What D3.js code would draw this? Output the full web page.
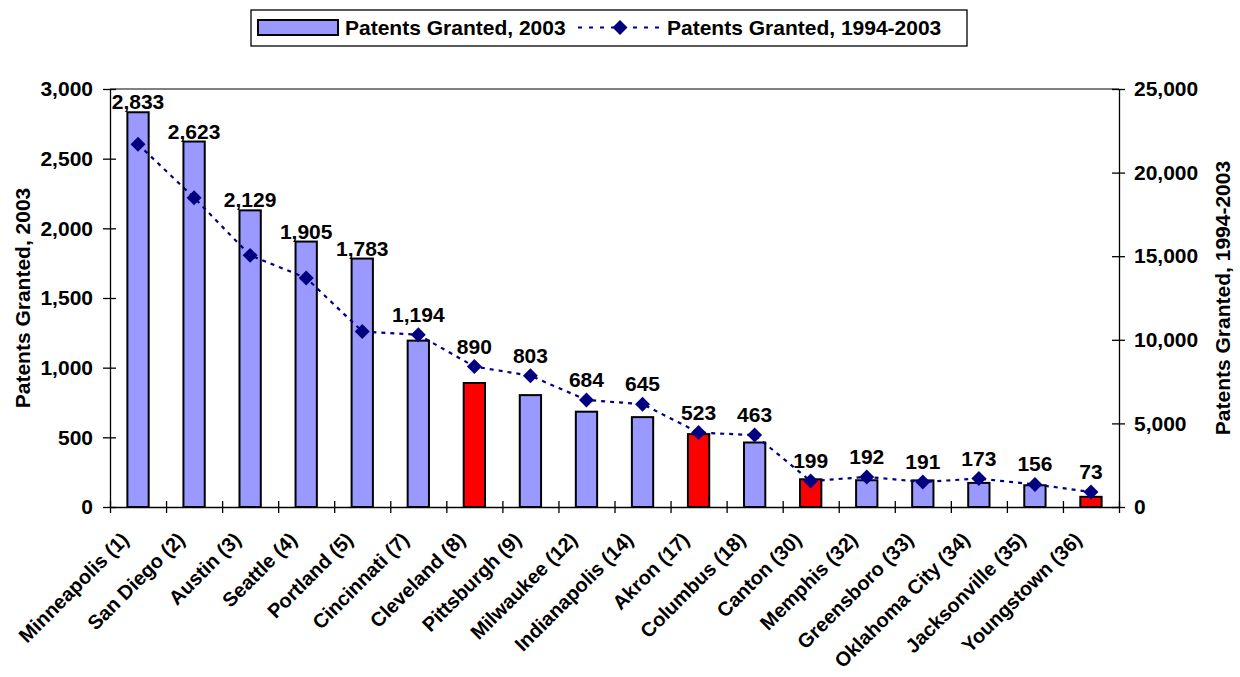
<!DOCTYPE html>
<html>
<head>
<meta charset="utf-8">
<script src="https://cdn.jsdelivr.net/npm/d3@7"></script>
<style>
    body { margin: 0; background: #fff; }
    svg text { font-family: "Liberation Sans", Arial, sans-serif; font-weight: bold; fill: #000; }
</style>
</head>
<body>
<div id="main"></div>
<script>
///////////
// DATA  //
///////////

const cities = [
      "Minneapolis (1)", "San Diego (2)", "Austin (3)", "Seattle (4)", "Portland (5)"
    , "Cincinnati (7)", "Cleveland (8)", "Pittsburgh (9)", "Milwaukee (12)", "Indianapolis (14)"
    , "Akron (17)", "Columbus (18)", "Canton (30)", "Memphis (32)", "Greensboro (33)"
    , "Oklahoma City (34)", "Jacksonville (35)", "Youngstown (36)"
]
const patents_2003 = [2833, 2623, 2129, 1905, 1783, 1194, 890, 803, 684, 645, 523, 463, 199, 192, 191, 173, 156, 73]
const patents_1994_2003 = [21700, 18500, 15050, 13700, 10500, 10300, 8400, 7850, 6400, 6150, 4450, 4300, 1550, 1800, 1500, 1700, 1350, 900]
const red_cities = ["Cleveland (8)", "Akron (17)", "Canton (30)", "Youngstown (36)"]

const left_ticks  = [0, 500, 1000, 1500, 2000, 2500, 3000]
const right_ticks = [0, 5000, 10000, 15000, 20000, 25000]

const bar_label  = "Patents Granted, 2003"
const line_label = "Patents Granted, 1994-2003"


///////////
// SETUP //
///////////

const width = 1240
const height = 677
const plot = {left: 110, right: 1119, top: 89, bottom: 507}

const BAR_BLUE = "#9999ff"
const BAR_RED  = "#ff0000"
const NAVY     = "#000080"
const FONT     = 21

const rows = cities.map((c, i) => ({city: c, bar: patents_2003[i], line: patents_1994_2003[i]}))

const x = d3.scaleBand()
    .domain(cities)
    .range([plot.left, plot.right])
    .paddingInner(0.62)
    .paddingOuter(0.31)

const y = d3.scaleLinear().domain([0, 3000]).range([plot.bottom, plot.top])
const y2 = d3.scaleLinear().domain([0, 25000]).range([plot.bottom, plot.top])

const cx = d => x(d.city) + x.bandwidth() / 2

const svg = d3.select("#main").append("svg")
    .attr("width", width)
    .attr("height", height)


//////////
// DRAW //
//////////

// plot area top border
svg.append("line")
    .attr("x1", plot.left).attr("x2", plot.right)
    .attr("y1", plot.top).attr("y2", plot.top)
    .attr("stroke", "#808080")
    .attr("stroke-width", 2)

// bars
svg.append("g").selectAll("rect").data(rows)
    .enter().append("rect")
        .attr("x", d => x(d.city))
        .attr("y", d => y(d.bar))
        .attr("width", x.bandwidth())
        .attr("height", d => y(0) - y(d.bar))
        .attr("fill", d => red_cities.includes(d.city) ? BAR_RED : BAR_BLUE)
        .attr("stroke", "#000")
        .attr("stroke-width", 2)

// axes
draw_axes()

// line
const line = d3.line().x(cx).y(d => y2(d.line))
svg.append("path")
    .datum(rows)
    .attr("d", line)
    .attr("fill", "none")
    .attr("stroke", NAVY)
    .attr("stroke-width", 2.2)
    .attr("stroke-dasharray", "4,5")

const diamond = d3.symbol(d3.symbolSquare, 112)
svg.append("g").selectAll("path").data(rows)
    .enter().append("path")
        .attr("d", diamond)
        .attr("transform", d => `translate(${cx(d)},${y2(d.line)}) rotate(45)`)
        .attr("fill", NAVY)

// bar value labels
svg.append("g").selectAll("text").data(rows)
    .enter().append("text")
        .attr("x", cx)
        .attr("y", d => Math.min(y(d.bar) - 3, y2(d.line) - 13))
        .attr("text-anchor", "middle")
        .style("font-size", FONT + "px")
        .text(d => d3.format(",")(d.bar))

draw_legend()


///////////////
// FUNCTIONS //
///////////////

function draw_axes(){
    const fmt = d3.format(",")

    // left
    const gl = svg.append("g")
        .attr("transform", `translate(${plot.left},0)`)
        .call(d3.axisLeft(y).tickValues(left_ticks).tickFormat(fmt).tickSizeOuter(0).tickPadding(11))
    style_axis(gl)
    gl.selectAll(".tick line").attr("x1", 6).attr("x2", -7)

    // right
    const gr = svg.append("g")
        .attr("transform", `translate(${plot.right},0)`)
        .call(d3.axisRight(y2).tickValues(right_ticks).tickFormat(fmt).tickSizeOuter(0).tickPadding(9))
    style_axis(gr)
    gr.selectAll(".tick line").attr("x1", -7).attr("x2", 6)

    // bottom: category boundaries
    const bounds = d3.range(cities.length + 1)
    const xb = d3.scaleLinear().domain([0, cities.length]).range([plot.left, plot.right])
    const gb = svg.append("g")
        .attr("transform", `translate(0,${plot.bottom})`)
        .call(d3.axisBottom(xb).tickValues(bounds).tickFormat("").tickSizeOuter(0))
    style_axis(gb)
    gb.selectAll(".tick line").attr("y1", -6).attr("y2", 6)

    // category labels
    svg.append("g").selectAll("text").data(cities)
        .enter().append("text")
            .attr("transform", c => `translate(${x(c) + x.bandwidth() / 2 - 8},${plot.bottom + 34}) rotate(-45)`)
            .attr("text-anchor", "end")
            .style("font-size", "20px")
            .text(c => c)

    // titles
    svg.append("text")
        .attr("transform", `translate(30,${(plot.top + plot.bottom) / 2}) rotate(-90)`)
        .attr("text-anchor", "middle")
        .style("font-size", FONT + "px")
        .text(bar_label)

    svg.append("text")
        .attr("transform", `translate(1230,${(plot.top + plot.bottom) / 2}) rotate(-90)`)
        .attr("text-anchor", "middle")
        .style("font-size", FONT + "px")
        .text(line_label)
}

function style_axis(g){
    g.select(".domain").attr("stroke", "#000").attr("stroke-width", 1.3)
    g.selectAll(".tick line").attr("stroke", "#000").attr("stroke-width", 1.3)
    g.selectAll(".tick text")
        .style("font-size", FONT + "px")
        .style("font-family", "'Liberation Sans', Arial, sans-serif")
        .style("font-weight", "bold")
        .attr("fill", "#000")
}

function draw_legend(){
    const lg = svg.append("g")

    lg.append("rect")
        .attr("x", 251).attr("y", 10)
        .attr("width", 716).attr("height", 36)
        .attr("fill", "#fff")
        .attr("stroke", "#000")
        .attr("stroke-width", 1.3)

    lg.append("rect")
        .attr("x", 258).attr("y", 20)
        .attr("width", 80).attr("height", 15)
        .attr("fill", BAR_BLUE)
        .attr("stroke", "#000")
        .attr("stroke-width", 2)

    lg.append("text")
        .attr("x", 345).attr("y", 35)
        .style("font-size", FONT + "px")
        .text(bar_label)

    lg.append("line")
        .attr("x1", 578).attr("x2", 662)
        .attr("y1", 27.5).attr("y2", 27.5)
        .attr("stroke", NAVY)
        .attr("stroke-width", 2.2)
        .attr("stroke-dasharray", "4,7")

    lg.append("path")
        .attr("d", diamond)
        .attr("transform", "translate(620,27.5) rotate(45)")
        .attr("fill", NAVY)

    lg.append("text")
        .attr("x", 667).attr("y", 35)
        .style("font-size", FONT + "px")
        .text(line_label)
}
</script>
</body>
</html>
